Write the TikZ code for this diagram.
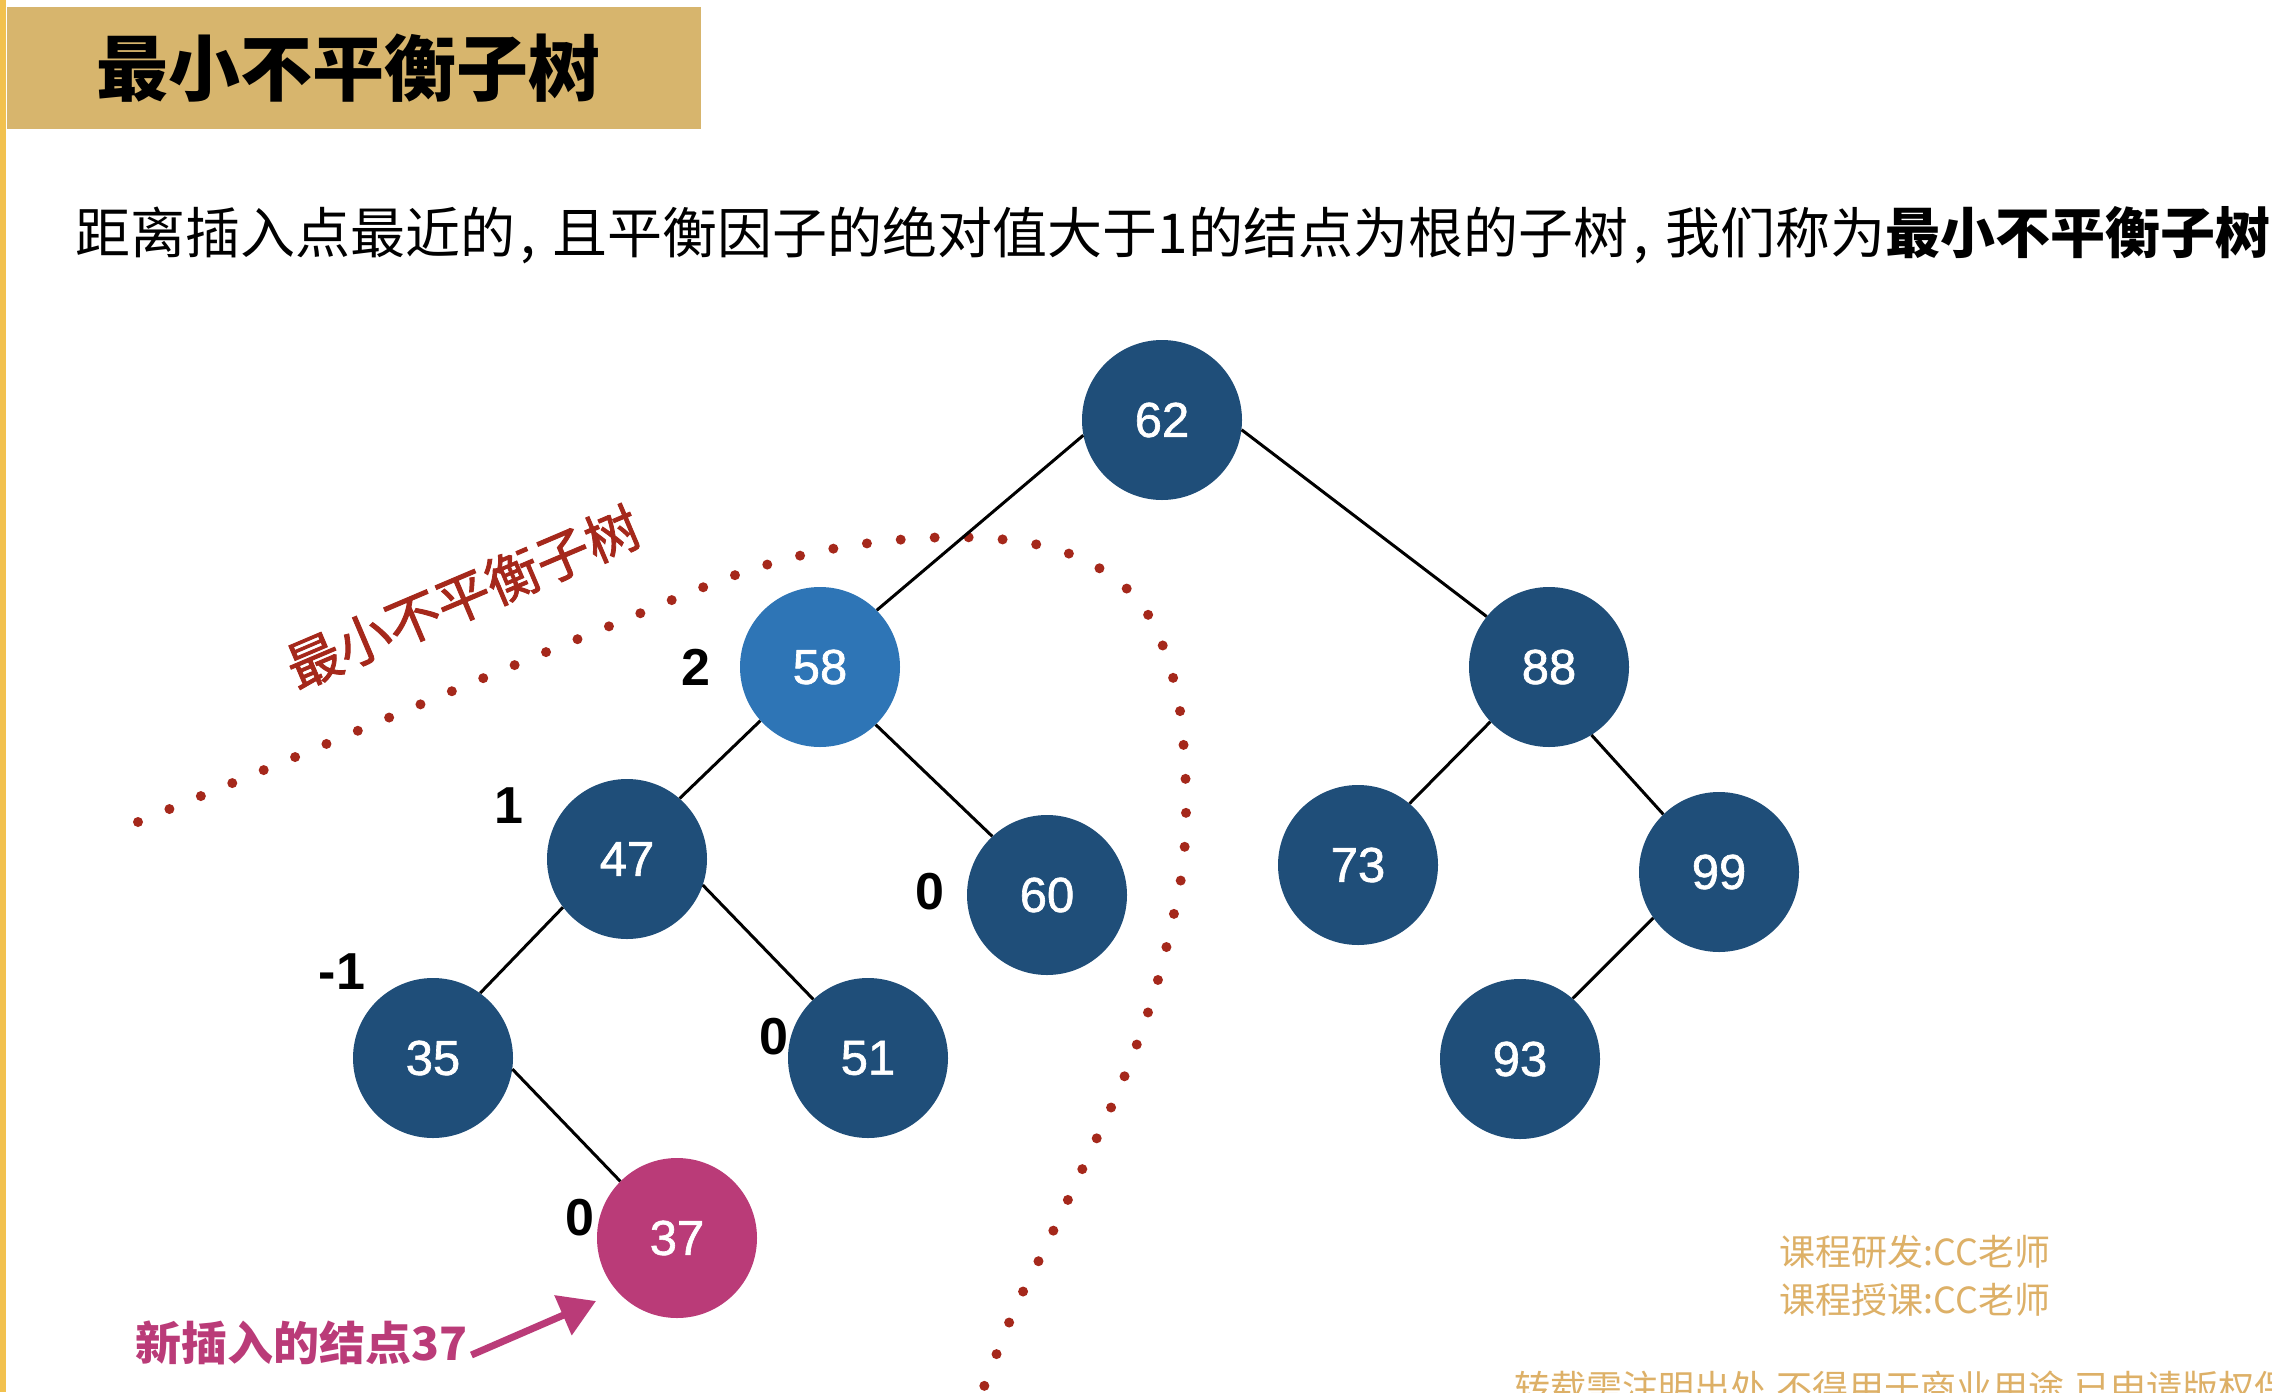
\documentclass[tikz,border=0pt]{standalone}
\usepackage{fontspec}
\setmainfont{Liberation Sans}
\newfontfamily\cjk{Noto Sans CJK SC}
\newfontfamily\cjkmed[FakeBold=1.6]{Noto Sans CJK SC}
\newfontfamily\numfont[FakeBold=1.3]{Liberation Sans}
\usetikzlibrary{arrows.meta}
\definecolor{nodeblue}{HTML}{1F4E79}
\definecolor{lightblue}{HTML}{2E75B6}
\definecolor{insertpink}{HTML}{BA3B78}
\definecolor{dotred}{HTML}{A5281B}
\definecolor{titlegold}{HTML}{D7B56D}
\definecolor{baryellow}{HTML}{F2C14E}
\definecolor{footgold}{HTML}{DDB067}
\begin{document}
\begin{tikzpicture}[x=1pt,y=-1pt,
  tnode/.style={circle, fill=nodeblue, minimum size=160pt, inner sep=0pt, text=white,
    font=\numfont\fontsize{49}{49}\selectfont},
  bal/.style={font=\bfseries\fontsize{52}{52}\selectfont, inner sep=0pt},
  treeedge/.style={line width=3pt, black},
  reddots/.style={dotred, line width=10pt, line cap=round, dash pattern=on 0pt off 34pt},
  foot/.style={anchor=west, inner sep=0pt, text=footgold, font=\cjk\fontsize{36}{36}\selectfont}
]
\useasboundingbox (0,0) rectangle (2272,1392);
\clip (0,0) rectangle (2272,1392);
\fill[white] (0,0) rectangle (2272,1392);
% left bar and title
\fill[baryellow] (0,0) rectangle (6,1392);
\fill[titlegold] (7,7) rectangle (701,129);
\node[inner sep=0pt, font=\cjk\bfseries\fontsize{72}{72}\selectfont] (title) at (348,68) {最小不平衡子树};
% subtitle
\node[anchor=west, inner sep=0pt, font=\cjk\fontsize{55}{55}\selectfont] (sub) at (75,235)
  {距离插入点最近的\hspace{0.1em},\hspace{0.3em}且平衡因子的绝对值大于1的结点为根的子树\hspace{0.1em},\hspace{0.3em}我们称为\textbf{最小不平衡子树}};
% dotted boundary
\draw[reddots] plot[smooth, tension=0.6] coordinates {(138,822) (300,755) (450,692) (600,630) (753,569) (870,543) (985,538) (1075,556) (1140,603) (1174,681) (1185,768) (1184,855) (1171,927) (1152,1000) (1123,1080) (1087,1159) (1046,1246) (1014,1311) (982,1392)};
\node[rotate=23, inner sep=0pt, text=dotred, font=\cjkmed\fontsize{54}{54}\selectfont] (sublbl) at (463,597) {最小不平衡子树};
% tree nodes
\node[tnode] (n62) at (1162,420) {62};
\node[tnode, fill=lightblue] (n58) at (820,667) {58};
\node[tnode] (n88) at (1549,667) {88};
\node[tnode] (n47) at (627,859) {47};
\node[tnode] (n60) at (1047,895) {60};
\node[tnode] (n73) at (1358,865) {73};
\node[tnode] (n99) at (1719,872) {99};
\node[tnode] (n35) at (433,1058) {35};
\node[tnode] (n51) at (868,1058) {51};
\node[tnode] (n93) at (1520,1059) {93};
\node[tnode, fill=insertpink] (n37) at (677,1238) {37};
% edges
\draw[treeedge] (n62.191) -- (n58.45);
\draw[treeedge] (n62.353) -- (n88.141);
\draw[treeedge] (n58.222) -- (n47.49);
\draw[treeedge] (n58.314) -- (n60.133);
\draw[treeedge] (n47.217) -- (n35.54);
\draw[treeedge] (n47.341) -- (n51.133);
\draw[treeedge] (n35.352) -- (n37.135);
\draw[treeedge] (n88.223) -- (n73.50);
\draw[treeedge] (n88.302) -- (n99.134);
\draw[treeedge] (n99.215) -- (n93.49);
% balance factors
\node[bal] (b58) at (696,667) {2};
\node[bal] (b47) at (509,806) {1};
\node[bal] (b35) at (342,972) {-1};
\node[bal] (b60) at (930,892) {0};
\node[bal] (b51) at (774,1037) {0};
\node[bal] (b37) at (580,1218) {0};
% inserted label and arrow
\node[anchor=west, inner sep=0pt, text=insertpink, font=\cjk\bfseries\fontsize{46}{46}\selectfont] (newlbl) at (135,1343) {新插入的结点37};
\coordinate (tip) at (596,1301);
\draw[insertpink, line width=7pt, -{Triangle[length=36pt,width=42pt]}] ([xshift=4pt,yshift=-12pt]newlbl.east) -- (tip);
% footer
\node[foot] (f1) at (1779,1252) {课程研发:CC老师};
\node[foot] (f2) at (1779,1300) {课程授课:CC老师};
\node[foot] (f3) at (1514,1390) {转载需注明出处,不得用于商业用途,已申请版权保护};
\end{tikzpicture}
\end{document}
